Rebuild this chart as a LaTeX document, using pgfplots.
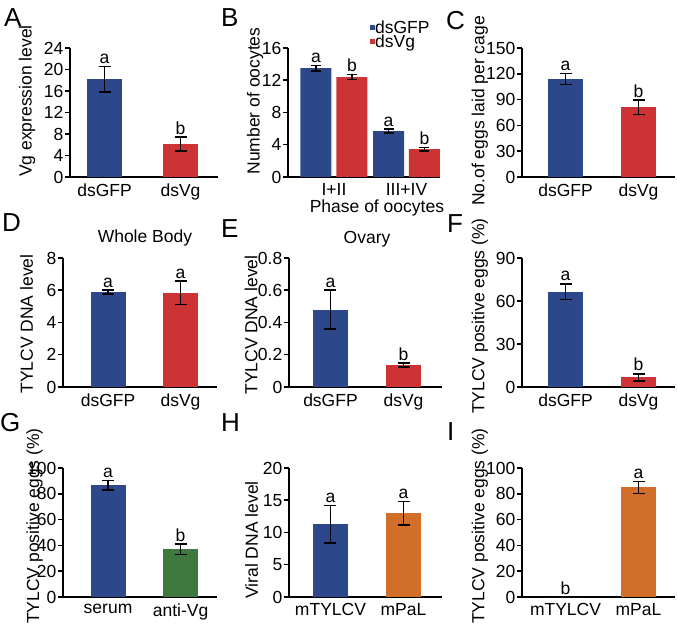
\documentclass[border=0pt]{standalone}
\usepackage{fontspec}
\setmainfont{Liberation Sans}
\usepackage{pgfplots}
\pgfplotsset{compat=1.18}
\definecolor{cblue}{RGB}{44,72,139}
\definecolor{cred}{RGB}{205,50,52}
\definecolor{cgreen}{RGB}{62,120,62}
\definecolor{corange}{RGB}{208,110,42}
\pgfplotsset{
 panel/.style={
  scale only axis, axis lines=left, axis line style={-, line width=1.6bp, black},
  enlargelimits=false,
  ymin=0, clip=false, height=129bp,
  tick align=outside, major tick length=5bp,
  ytick style={line width=1.5bp, black},
  xtick style={draw=none},
  xtick={0,1},
  tick label style={/pgf/number format/assume math mode=true, inner sep=1.5bp, black},
  ylabel style={anchor=center, inner sep=0pt},
 },
 barerr/.style={ybar, bar width=35bp, bar shift=0pt, draw=none,
  error bars/y dir=both, error bars/y explicit,
  error bars/error bar style={line width=1.5bp, black},
  error bars/error mark options={rotate=90, mark size=6bp, line width=1.5bp, black}},
 letters/.style={draw=none, mark=none, nodes near coords, point meta=explicit symbolic, forget plot,
  every node near coord/.append style={anchor=south, inner sep=2.5bp, black}},
}
\begin{document}
\begin{tikzpicture}[font=\fontsize{17.5bp}{20bp}\selectfont]
\path (0bp,0bp) rectangle (677bp,624bp);
% ---------- A ----------
\begin{axis}[panel, at={(70bp,447bp)}, anchor=south west, width=148bp,
  xmin=-0.454, xmax=1.493, ymax=24, ytick={0,4,...,24},
  xticklabels={dsGFP,dsVg},
  ylabel={Vg expression level}, ylabel style={at={(axis description cs:-0.29,0.589)}}]
\addplot[barerr, fill=cblue] coordinates {(0,18.2) +- (0,2.4)};
\addplot[barerr, fill=cred] coordinates {(1,6.1) +- (0,1.3)};
\addplot[letters] coordinates {(0,20.6) [a] (1,7.4) [b]};
\end{axis}
% ---------- B ----------
\begin{axis}[panel, at={(288bp,447bp)}, anchor=south west, width=152bp,
  xmin=-0.634, xmax=1.462, ymax=16, ytick={0,4,...,16},
  xticklabels={I+II,III+IV},
  xlabel={Phase of oocytes}, xlabel style={at={(axis description cs:0.585,-0.172)}, anchor=north, inner sep=0pt},
  ylabel={Number of oocytes}, ylabel style={at={(axis description cs:-0.217,0.589)}},
  legend style={at={(rel axis cs:0.539,1.2)}, anchor=north west, draw=none, fill=none, inner sep=0pt,
    row sep=1bp,
    nodes={inner sep=0pt, text height=11.5bp, text depth=1.5bp, font=\fontsize{17.5bp}{17.5bp}\selectfont}},
  legend cell align=left,
  legend image code/.code={\fill[#1] (0bp,-1.5bp) rectangle (5bp,3.5bp);}]
\addlegendimage{fill=cblue, draw=none}
\addlegendentry{dsGFP}
\addlegendimage{fill=cred, draw=none}
\addlegendentry{dsVg}
\addplot[barerr, forget plot, fill=cblue, bar width=31bp,
  error bars/error mark options={rotate=90, mark size=5bp, line width=1.5bp, black}]
  coordinates {(-0.248,13.5) +- (0,0.35) (0.752,5.7) +- (0,0.25)};
\addplot[barerr, forget plot, fill=cred, bar width=31bp,
  error bars/error mark options={rotate=90, mark size=5bp, line width=1.5bp, black}]
  coordinates {(0.248,12.4) +- (0,0.3) (1.248,3.45) +- (0,0.2)};
\addplot[letters] coordinates {(-0.248,13.85) [a] (0.248,12.7) [b] (0.752,5.95) [a] (1.248,3.65) [b]};
\end{axis}
% ---------- C ----------
\begin{axis}[panel, at={(522bp,447bp)}, anchor=south west, width=153bp,
  xmin=-0.596, xmax=1.5, ymax=150, ytick={0,30,...,150},
  xticklabels={dsGFP,dsVg},
  ylabel={No.of eggs laid per cage}, ylabel style={at={(axis description cs:-0.275,0.512)}}]
\addplot[barerr, fill=cblue] coordinates {(0,114) +- (0,6.5)};
\addplot[barerr, fill=cred] coordinates {(1,81) +- (0,8.5)};
\addplot[letters] coordinates {(0,120.5) [a] (1,89.5) [b]};
\end{axis}
% ---------- D ----------
\begin{axis}[panel, at={(63bp,237bp)}, anchor=south west, width=154bp,
  xmin=-0.621, xmax=1.503, ymax=8, ytick={0,2,...,8},
  xticklabels={dsGFP,dsVg},
  title={Whole Body}, title style={at={(axis description cs:0.532,1.109)}, anchor=center, inner sep=0pt},
  ylabel={TYLCV DNA level}, ylabel style={at={(axis description cs:-0.237,0.488)}}]
\addplot[barerr, fill=cblue] coordinates {(0,5.9) +- (0,0.12)};
\addplot[barerr, fill=cred] coordinates {(1,5.84) +- (0,0.73)};
\addplot[letters] coordinates {(0,6.02) [a] (1,6.57) [a]};
\end{axis}
% ---------- E ----------
\begin{axis}[panel, at={(289bp,237bp)}, anchor=south west, width=153bp,
  xmin=-0.568, xmax=1.527, ymax=0.8, ytick={0,0.2,0.4,0.6,0.8},
  xticklabels={dsGFP,dsVg},
  title={Ovary}, title style={at={(axis description cs:0.51,1.10)}, anchor=center, inner sep=0pt},
  ylabel={TYLCV DNA level}, ylabel style={at={(axis description cs:-0.248,0.48)}}]
\addplot[barerr, fill=cblue] coordinates {(0,0.48) +- (0,0.12)};
\addplot[barerr, fill=cred] coordinates {(1,0.136) +- (0,0.012)};
\addplot[letters] coordinates {(0,0.60) [a] (1,0.148) [b]};
\end{axis}
% ---------- F ----------
\begin{axis}[panel, at={(522bp,237bp)}, anchor=south west, width=153bp,
  xmin=-0.596, xmax=1.5, ymax=90, ytick={0,30,60,90},
  xticklabels={dsGFP,dsVg},
  ylabel={TYLCV positive eggs (\%)}, ylabel style={at={(axis description cs:-0.275,0.55)}}]
\addplot[barerr, fill=cblue] coordinates {(0,66.5) +- (0,5.5)};
\addplot[barerr, fill=cred] coordinates {(1,6.7) +- (0,2.5)};
\addplot[letters] coordinates {(0,72) [a] (1,9.2) [b]};
\end{axis}
% ---------- G ----------
\begin{axis}[panel, at={(63bp,27bp)}, anchor=south west, width=154bp,
  xmin=-0.621, xmax=1.503, ymax=100, ytick={0,20,...,100},
  xticklabels={serum,anti-Vg},
  ylabel={TYLCV positive eggs (\%)}, ylabel style={at={(axis description cs:-0.185,0.55)}}]
\addplot[barerr, fill=cblue] coordinates {(0,86.5) +- (0,3.7)};
\addplot[barerr, fill=cgreen] coordinates {(1,37) +- (0,4)};
\addplot[letters] coordinates {(0,90.2) [a] (1,41) [b]};
\end{axis}
% ---------- H ----------
\begin{axis}[panel, at={(289bp,27bp)}, anchor=south west, width=153bp,
  xmin=-0.568, xmax=1.527, ymax=20, ytick={0,5,...,20},
  xticklabels={mTYLCV,mPaL},
  ylabel={Viral DNA level}, ylabel style={at={(axis description cs:-0.245,0.442)}}]
\addplot[barerr, fill=cblue] coordinates {(0,11.3) +- (0,2.9)};
\addplot[barerr, fill=corange] coordinates {(1,13) +- (0,1.8)};
\addplot[letters] coordinates {(0,14.2) [a] (1,14.8) [a]};
\end{axis}
% ---------- I ----------
\begin{axis}[panel, at={(522bp,27bp)}, anchor=south west, width=153bp,
  xmin=-0.596, xmax=1.5, ymax=100, ytick={0,20,...,100},
  xticklabels={mTYLCV,mPaL},
  ylabel={TYLCV positive eggs (\%)}, ylabel style={at={(axis description cs:-0.275,0.55)}}]
\addplot[ybar, bar width=35bp, bar shift=0pt, draw=none, fill=cblue] coordinates {(0,0)};
\addplot[barerr, fill=corange] coordinates {(1,85) +- (0,4.6)};
\addplot[letters] coordinates {(0,0) [b] (1,89.6) [a]};
\end{axis}
% ---------- panel letters ----------
\begin{scope}[every node/.style={anchor=base west, inner sep=0pt, font=\fontsize{26bp}{30bp}\selectfont}]
\node at (4bp,597bp) {A};
\node at (221bp,597bp) {B};
\node at (446bp,594bp) {C};
\node at (2bp,392bp) {D};
\node at (221bp,386bp) {E};
\node at (447bp,391bp) {F};
\node at (0bp,192bp) {G};
\node at (221bp,192bp) {H};
\node at (447bp,183bp) {I};
\end{scope}
\end{tikzpicture}
\end{document}
